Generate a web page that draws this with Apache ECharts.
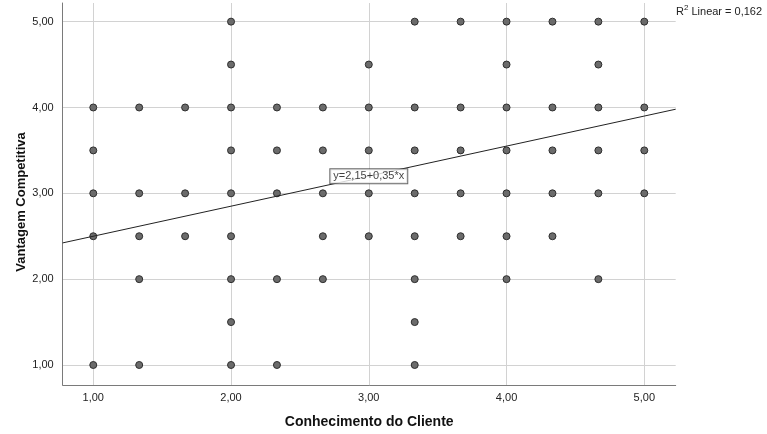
<!DOCTYPE html>
<html>
<head>
<meta charset="utf-8">
<script src="https://cdn.jsdelivr.net/npm/echarts@6/dist/echarts.min.js"></script>
<style>
  html, body { margin: 0; padding: 0; background: #fff; }
  #chart { width: 767px; height: 434px; }
</style>
</head>
<body>
<div id="chart"></div>
<script>
// Conhecimento do Cliente (x) vs Vantagem Competitiva (y)
// Each column lists the distinct y values observed at that x level.
const xLevels = [1, 4/3, 5/3, 2, 7/3, 8/3, 3, 10/3, 11/3, 4, 13/3, 14/3, 5];
const yByLevel = [
  [4.0, 3.5, 3.0, 2.5, 1.0],
  [4.0, 3.0, 2.5, 2.0, 1.0],
  [4.0, 3.0, 2.5],
  [5.0, 4.5, 4.0, 3.5, 3.0, 2.5, 2.0, 1.5, 1.0],
  [4.0, 3.5, 3.0, 2.0, 1.0],
  [4.0, 3.5, 3.0, 2.5, 2.0],
  [4.5, 4.0, 3.5, 3.0, 2.5],
  [5.0, 4.0, 3.5, 3.0, 2.5, 2.0, 1.5, 1.0],
  [5.0, 4.0, 3.5, 3.0, 2.5],
  [5.0, 4.5, 4.0, 3.5, 3.0, 2.5, 2.0],
  [5.0, 4.0, 3.5, 3.0, 2.5],
  [5.0, 4.5, 4.0, 3.5, 3.0, 2.0],
  [5.0, 4.0, 3.5, 3.0]
];

// Linear fit reported for the data
const fitIntercept = 2.15;
const fitSlope = 0.35;
const fitR2 = '0,162';
const fitLabelX = 3;

const xRange = [0.778, 5.228];
const yRange = [0.767, 5.217];
const tickValues = [1, 2, 3, 4, 5];

const fmt = v => v.toFixed(2).replace('.', ',');

const points = [];
xLevels.forEach((x, i) => yByLevel[i].forEach(y => points.push([x, y])));

const fitLine = xRange.map(x => [x, fitIntercept + fitSlope * x]);
const fitLabelPoint = [[fitLabelX, fitIntercept + fitSlope * fitLabelX]];

const FONT = '"Liberation Sans", Arial, sans-serif';

const chart = echarts.init(document.getElementById('chart'), null, { renderer: 'canvas' });
chart.setOption({
  animation: false,
  backgroundColor: '#ffffff',
  textStyle: { fontFamily: FONT },
  grid: { left: 62.7, top: 3, right: 91.3, bottom: 48.3 },
  title: {
    left: 676, top: 4,
    padding: 0,
    text: '{b|R}{s|2}{b| Linear = ' + fitR2 + '}',
    textStyle: {
      fontWeight: 'normal',
      rich: {
        b: { fontFamily: FONT, fontSize: 11, fontWeight: 'normal', color: '#222', verticalAlign: 'bottom', lineHeight: 13 },
        s: { fontFamily: FONT, fontSize: 8, fontWeight: 'normal', color: '#222', verticalAlign: 'top', lineHeight: 13, padding: [0, 0, 6, 0] }
      }
    }
  },
  xAxis: {
    type: 'value',
    min: xRange[0], max: xRange[1],
    name: 'Conhecimento do Cliente',
    nameLocation: 'middle',
    nameGap: 30,
    nameMoveOverlap: false,
    nameTextStyle: { fontFamily: FONT, fontSize: 14, fontWeight: 'bold', color: '#111' },
    axisLine: { show: true, onZero: false, lineStyle: { color: '#7a7a7a', width: 1 } },
    axisTick: { show: false, customValues: tickValues },
    axisLabel: {
      fontFamily: FONT, fontSize: 11, color: '#222', margin: 7,
      customValues: tickValues,
      formatter: v => fmt(v)
    },
    splitLine: { show: true, lineStyle: { color: '#d2d2d2', width: 1 } }
  },
  yAxis: {
    type: 'value',
    min: yRange[0], max: yRange[1],
    name: 'Vantagem Competitiva',
    nameLocation: 'middle',
    nameGap: 35,
    nameMoveOverlap: false,
    nameTextStyle: { fontFamily: FONT, fontSize: 13, fontWeight: 'bold', color: '#111', padding: [0, 16, 0, 0] },
    axisLine: { show: true, onZero: false, lineStyle: { color: '#7a7a7a', width: 1 } },
    axisTick: { show: false, customValues: tickValues },
    axisLabel: {
      fontFamily: FONT, fontSize: 11, color: '#222', margin: 9,
      customValues: tickValues,
      formatter: v => fmt(v)
    },
    splitLine: { show: true, lineStyle: { color: '#d2d2d2', width: 1 } }
  },
  series: [
    {
      type: 'scatter',
      data: points,
      symbol: 'circle',
      symbolSize: 7,
      itemStyle: { color: '#6b6b6b', borderColor: '#2e2e2e', borderWidth: 1, opacity: 1 },
      z: 3
    },
    {
      type: 'line',
      data: fitLine,
      symbol: 'none',
      lineStyle: { color: '#222', width: 1 },
      silent: true,
      z: 4
    },
    {
      type: 'scatter',
      data: fitLabelPoint,
      symbolSize: 0,
      silent: true,
      z: 5,
      label: {
        show: true,
        position: 'inside',
        formatter: 'y=' + fmt(fitIntercept) + '+' + fmt(fitSlope) + '*x',
        fontFamily: FONT, fontSize: 11, color: '#111',
        backgroundColor: '#ffffff',
        borderColor: '#444',
        borderWidth: 1,
        padding: [2, 3, 1, 3]
      }
    }
  ]
});
</script>
</body>
</html>
